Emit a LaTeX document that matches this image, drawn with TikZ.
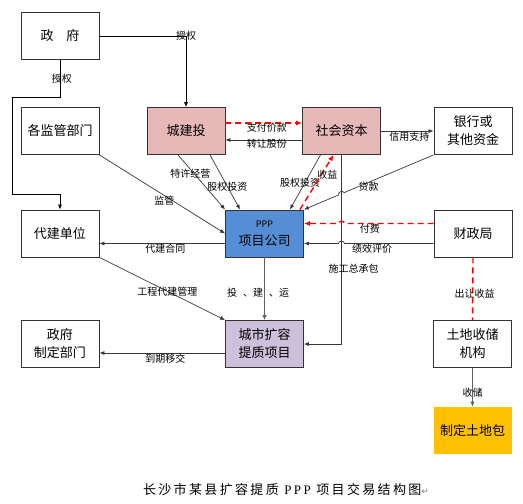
\documentclass[tikz,border=0pt]{standalone}
\usepackage{fontspec}
\setmainfont{Noto Sans CJK SC}
\newfontfamily\capfont[LetterSpace=18]{Noto Sans CJK SC}
\newfontfamily\capserif[LetterSpace=18]{Liberation Serif}
\newfontfamily\symfont{DejaVu Sans}
\usetikzlibrary{arrows.meta,calc,positioning}
\definecolor{investpink}{RGB}{230,184,183}
\definecolor{companyblue}{RGB}{85,142,213}
\definecolor{projviolet}{RGB}{204,192,218}
\definecolor{landgold}{RGB}{255,192,0}
\definecolor{linegray}{RGB}{56,56,56}
\definecolor{thickgray}{RGB}{96,96,96}
\definecolor{payred}{RGB}{255,0,0}
\tikzset{
  party/.style={draw=black!80,line width=0.8pt,fill=white,minimum width=78pt,
                minimum height=47pt,inner sep=2pt,align=center,
                font=\fontsize{13}{18}\selectfont},
  investor/.style={party,fill=investpink},
  company/.style={party,fill=companyblue},
  project/.style={party,fill=projviolet},
  landpack/.style={party,draw=none,fill=landgold},
  conn/.style={linegray,line width=0.7pt,-{Latex[length=5pt,width=4pt]}},
  govconn/.style={conn,black},
  mainconn/.style={thickgray,line width=1.6pt,-{Latex[length=5pt,width=4.5pt]}},
  cash/.style={payred,line width=1.4pt,dash pattern=on 6pt off 4pt,
               -{Latex[length=6pt,width=5pt]}},
  lbl/.style={text=black,font=\fontsize{10}{11}\selectfont,inner sep=1pt},
  hop/.style={bend right=90,looseness=1.3},
}

\begin{document}
\begin{tikzpicture}[x=1pt,y=-1pt]
  \path[use as bounding box] (0,0) rectangle (523,504);

  % parties
  \node[party] (gov) at (60,36) {政\hspace{1em}府};
  \node[party] (reg) at (60,131) {各监管部门};
  \node[investor] (cjt) at (186,131) {城建投};
  \node[investor] (social) at (341.5,131) {社会资本};
  \node[party] (bank) at (473,131) {银行或\\其他资金};
  \node[party] (agent) at (60,233.5) {代建单位};
  \node[company] (ppp) at (264.5,233.5) {{\fontsize{9}{11}\selectfont PPP}\\项目公司};
  \node[party] (czj) at (473,233.5) {财政局};
  \node[party] (govdept) at (60,344) {政府\\制定部门};
  \node[project] (proj) at (264.5,344) {城市扩容\\提质项目};
  \node[party] (land) at (472.5,344) {土地收储\\机构};
  \node[landpack] (pkg) at (472.5,430.5) {制定土地包};

  % authorisation
  \draw[govconn] (gov.east) -| node[lbl,pos=0.5] (lAuthA) {授权} (cjt.north);
  \draw[govconn] (gov.south) |- node[lbl,pos=0.25,xshift=2pt] (lAuthB) {授权}
    ++(-48,37) |- ([yshift=15pt]agent.north) -- (agent.north);

  % into the project company
  \draw[conn] (reg.south east) -- node[lbl,pos=0.5,xshift=2pt,yshift=-6pt] (lSup) {监管} (ppp.west);
  \draw[conn] ([xshift=-8pt]cjt.south) -- node[lbl,pos=0.35,xshift=-4pt] (lFran) {特许经营} (ppp.north west);
  \draw[conn] ([xshift=24pt]cjt.south) -- node[lbl,pos=0.58] (lEqA) {股权投资} ([xshift=15pt]ppp.north west);
  \draw[conn] ([xshift=-21pt]social.south) -- node[lbl,pos=0.5,xshift=-5pt] (lEqB) {股权投资} ([xshift=-14pt]ppp.north east);
  \draw[cash] ([xshift=-4pt]ppp.north east) -- node[lbl,pos=0.64,xshift=6pt] (lGain) {收益} ([xshift=-8pt]social.south);

  % share transfer
  \draw[cash] ([yshift=8pt]cjt.east) -- node[lbl,xshift=3pt,yshift=-5pt] (lPay) {支付价款} ([yshift=8pt]social.west);
  \draw[conn] ([yshift=-9pt]social.west) -- node[lbl,xshift=3pt,yshift=-4pt] (lShare) {转让股份} ([yshift=-9pt]cjt.east);
  \draw[conn] (social.east) -- node[lbl,xshift=2pt,yshift=-6pt] (lCredit) {信用支持} (bank.west);

  % loan, crossing the contractor line
  \draw[conn] (bank.south west)
    -- node[lbl,pos=0.725,yshift=-4.5pt] (lLoan) {贷款} ($(bank.south west)!0.69!(ppp.north east)$)
    to[hop] ($(bank.south west)!0.733!(ppp.north east)$) -- (ppp.north east);
  \draw[conn] (social.south) |- node[lbl,pos=0.3,xshift=12pt] (lEpc) {施工总承包} (proj.east);

  % finance bureau
  \draw[cash] ([yshift=10pt]czj.west)
    -- node[lbl,pos=0.715,yshift=-5.5pt] (lFee) {付费} ($(social.south |- czj.west)+(3,-10)$)
    to[hop] ($(social.south |- czj.west)+(-3,-10)$) -- ([yshift=10pt]ppp.east);
  \draw[conn] ([yshift=-10pt]czj.west)
    -- node[lbl,pos=0.69,yshift=-5pt] (lEval) {绩效评价} ($(social.south |- czj.west)+(3,10)$)
    to[hop] ($(social.south |- czj.west)+(-3,10)$) -- ([yshift=-10pt]ppp.east);

  % construction and hand-over
  \draw[conn] ([yshift=-10pt]ppp.west) -- node[lbl,xshift=3pt,yshift=-5pt] (lAgent) {代建合同} ([yshift=-10pt]agent.east);
  \draw[conn] (agent.south east) -- node[lbl,pos=0.54] (lMgmt) {工程代建管理} (proj.north west);
  \draw[mainconn] (ppp.south) -- node[lbl,xshift=-6.5pt,yshift=-4pt] (lBuild) {投\hspace{0.6em}、建\hspace{0.6em}、运} (proj.north);
  \draw[conn] ([yshift=-9pt]proj.west) -- node[lbl,xshift=3pt,yshift=-6pt] (lHand) {到期移交} ([yshift=-9pt]govdept.east);

  % land
  \draw[cash,-] (czj.south) -- node[lbl,pos=0.58,xshift=2pt] (lSale) {出让收益} (land.north);
  \draw[mainconn] (land.south) -- node[lbl,pos=0.65] (lStore) {收储} (pkg.north);

  \node[font=\capfont\fontsize{13}{15}\selectfont] (caption) at (286,490)
    {长沙市某县扩容提质{\capserif\ PPP\ }项目交易结构图{\symfont\color{gray}\fontsize{9}{10}\selectfont ↵}};
\end{tikzpicture}
\end{document}
